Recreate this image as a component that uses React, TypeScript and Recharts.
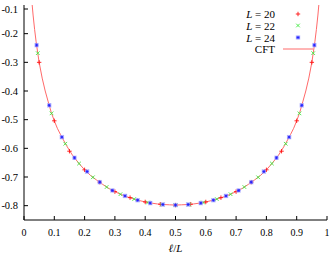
import React from 'react';
import { ScatterChart, Scatter, XAxis, YAxis, Legend } from 'recharts';

const L20_Y = [-0.300, -0.504, -0.610, -0.675, -0.718, -0.751, -0.772, -0.787, -0.795, -0.798, -0.795, -0.787, -0.772, -0.751, -0.718, -0.675, -0.610, -0.504, -0.300];
const L22_Y = [-0.268, -0.478, -0.584, -0.653, -0.701, -0.735, -0.760, -0.777, -0.789, -0.796, -0.798, -0.796, -0.789, -0.777, -0.760, -0.735, -0.701, -0.653, -0.584, -0.478, -0.268];
const L24_Y = [-0.240, -0.450, -0.561, -0.633, -0.681, -0.718, -0.747, -0.766, -0.781, -0.791, -0.796, -0.798, -0.796, -0.791, -0.781, -0.766, -0.747, -0.718, -0.681, -0.633, -0.561, -0.450, -0.240];

const CFT_X = [0.027, 0.03, 0.035, 0.04, 0.045, 0.05, 0.06, 0.07, 0.08, 0.09, 0.1, 0.11, 0.12, 0.14, 0.16, 0.18, 0.2, 0.22, 0.24, 0.26, 0.28, 0.3, 0.32, 0.34, 0.36, 0.38, 0.4, 0.42, 0.44, 0.46, 0.48, 0.5,
  0.52, 0.54, 0.56, 0.58, 0.6, 0.62, 0.64, 0.66, 0.68, 0.7, 0.72, 0.74, 0.76, 0.78, 0.8, 0.82, 0.84, 0.86, 0.88, 0.89, 0.9, 0.91, 0.92, 0.93, 0.94, 0.95, 0.955, 0.96, 0.965, 0.97, 0.973];
const CFT_Y = [-0.100, -0.135, -0.185, -0.228, -0.265, -0.300, -0.355, -0.400, -0.438, -0.475, -0.504, -0.530, -0.551, -0.590, -0.624, -0.651, -0.675, -0.695, -0.711, -0.726, -0.740, -0.751, -0.761, -0.769, -0.776, -0.782, -0.787, -0.791, -0.794, -0.796, -0.797, -0.798,
  -0.797, -0.796, -0.794, -0.791, -0.787, -0.782, -0.776, -0.769, -0.761, -0.751, -0.740, -0.726, -0.711, -0.695, -0.675, -0.651, -0.624, -0.590, -0.551, -0.530, -0.504, -0.475, -0.438, -0.400, -0.355, -0.300, -0.265, -0.228, -0.185, -0.135, -0.100];

const X_TICKS = [0, 0.1, 0.2, 0.3, 0.4, 0.5, 0.6, 0.7, 0.8, 0.9, 1];
const Y_TICKS = [-0.8, -0.7, -0.6, -0.5, -0.4, -0.3, -0.2, -0.1];
const X_LABELS = ['0', '0.1', '0.2', '0.3', '0.4', '0.5', '0.6', '0.7', '0.8', '0.9', '1'];
const Y_LABELS = ['-0.8', '-0.7', '-0.6', '-0.5', '-0.4', '-0.3', '-0.2', '-0.1'];

const l20 = L20_Y.map((y, i) => ({ x: (i + 1) / 20, y }));
const l22 = L22_Y.map((y, i) => ({ x: (i + 1) / 22, y }));
const l24 = L24_Y.map((y, i) => ({ x: (i + 1) / 24, y }));
const cft = CFT_X.map((x, i) => ({ x, y: CFT_Y[i] }));

const FONT = 'Liberation Serif';
const RED = '#ff1010';
const GREEN = '#40e840';
const BLUE = '#2020ff';
const CFT_COLOR = '#ff6a6a';
const TICK = 4;

const PlusMark = ({ cx, cy }: any) => {
  if (cx == null || cy == null) return <g />;
  const s = 2.2;
  return (
    <g stroke={RED} strokeWidth={0.9}>
      <line x1={cx - s} y1={cy} x2={cx + s} y2={cy} />
      <line x1={cx} y1={cy - s} x2={cx} y2={cy + s} />
    </g>
  );
};
const CrossMark = ({ cx, cy }: any) => {
  if (cx == null || cy == null) return <g />;
  const s = 1.8;
  return (
    <g stroke={GREEN} strokeWidth={0.9}>
      <line x1={cx - s} y1={cy - s} x2={cx + s} y2={cy + s} />
      <line x1={cx - s} y1={cy + s} x2={cx + s} y2={cy - s} />
    </g>
  );
};
const StarMark = ({ cx, cy }: any) => {
  if (cx == null || cy == null) return <g />;
  const s = 2.2;
  return (
    <g>
      <rect x={cx - s} y={cy - s} width={2 * s} height={2 * s} fill="#a8a8ff" opacity={0.7} />
      <g stroke={BLUE} strokeWidth={0.8}>
        <line x1={cx - 1.6} y1={cy} x2={cx + 1.6} y2={cy} />
        <line x1={cx} y1={cy - 1.6} x2={cx} y2={cy + 1.6} />
        <line x1={cx - 1.3} y1={cy - 1.3} x2={cx + 1.3} y2={cy + 1.3} />
        <line x1={cx - 1.3} y1={cy + 1.3} x2={cx + 1.3} y2={cy - 1.3} />
      </g>
    </g>
  );
};

const BottomTick = ({ x, y, payload }: any) => (
  <g>
    <line x1={x} y1={y} x2={x} y2={y - TICK} stroke="#000" />
    <text x={x} y={y + 12} textAnchor="middle" dominantBaseline="central" fontFamily={FONT} fontSize={10} fill="#000">
      {X_LABELS[X_TICKS.indexOf(payload.value)] ?? String(payload.value)}
    </text>
  </g>
);
const TopTick = ({ x, y }: any) => (
  <line x1={x} y1={y} x2={x} y2={y + TICK} stroke="#000" />
);
const LeftTick = ({ x, y, payload }: any) => (
  <g>
    <line x1={x} y1={y} x2={x + TICK} y2={y} stroke="#000" />
    <text x={x - 6} y={y} textAnchor="end" dominantBaseline="central" fontFamily={FONT} fontSize={10.5} fill="#000">
      {Y_LABELS[Y_TICKS.indexOf(payload.value)] ?? String(payload.value)}
    </text>
  </g>
);
const RightTick = ({ x, y }: any) => (
  <line x1={x} y1={y} x2={x - TICK} y2={y} stroke="#000" />
);

const XLabel = ({ viewBox }: any) => {
  const cx = viewBox ? viewBox.x + viewBox.width / 2 : 175.5;
  return (
    <text x={cx} y={248} textAnchor="middle" dominantBaseline="central" fontFamily={FONT} fontSize={11} fill="#000">
      <tspan fontStyle="italic">ℓ</tspan>/<tspan fontStyle="italic">L</tspan>
    </text>
  );
};

const LegendContent = () => (
  <svg width={332} height={60} style={{ display: 'block', pointerEvents: 'none' }}>
    <g fontFamily={FONT} fontSize={11} fill="#000">
      <text x={275} y={14} textAnchor="end" dominantBaseline="central"><tspan fontStyle="italic">L</tspan> = 20</text>
      <text x={275} y={25.5} textAnchor="end" dominantBaseline="central"><tspan fontStyle="italic">L</tspan> = 22</text>
      <text x={275} y={37.5} textAnchor="end" dominantBaseline="central"><tspan fontStyle="italic">L</tspan> = 24</text>
      <text x={275} y={49} textAnchor="end" dominantBaseline="central">CFT</text>
    </g>
    <PlusMark cx={298} cy={14} />
    <CrossMark cx={298} cy={25.5} />
    <StarMark cx={298} cy={37.5} />
    <line x1={283} y1={49} x2={313} y2={49} stroke={CFT_COLOR} strokeWidth={1} />
  </svg>
);

export default function App() {
  return (
    <div style={{ position: 'absolute', left: 0, top: 0, background: '#fff' }}>
      <ScatterChart width={332} height={256} margin={{ top: 5, right: 5, bottom: 0, left: 0 }}>
        <XAxis
          type="number"
          dataKey="x"
          domain={[0, 1]}
          ticks={X_TICKS}
          allowDataOverflow
          height={36}
          tickSize={0}
          tickMargin={0}
          tick={<BottomTick />}
          tickLine={false}
          axisLine={{ stroke: '#000' }}
          label={<XLabel />}
        />
        <XAxis
          xAxisId="top"
          orientation="top"
          type="number"
          domain={[0, 1]}
          ticks={X_TICKS}
          allowDataOverflow
          height={0}
          tickSize={0}
          tickMargin={0}
          tick={<TopTick />}
          tickLine={false}
          axisLine={{ stroke: '#000' }}
        />
        <YAxis
          type="number"
          dataKey="y"
          domain={[-0.85, -0.1]}
          ticks={Y_TICKS}
          allowDataOverflow
          width={24}
          tickSize={0}
          tickMargin={0}
          tick={<LeftTick />}
          tickLine={false}
          axisLine={{ stroke: '#000' }}
        />
        <YAxis
          yAxisId="right"
          orientation="right"
          type="number"
          domain={[-0.85, -0.1]}
          ticks={Y_TICKS}
          allowDataOverflow
          width={0}
          tickSize={0}
          tickMargin={0}
          tick={<RightTick />}
          tickLine={false}
          axisLine={{ stroke: '#000' }}
        />
        <Legend
          layout="vertical"
          align="center"
          verticalAlign="middle"
          content={<LegendContent />}
          wrapperStyle={{ position: 'absolute', left: 0, top: 0, width: 332, height: 60 }}
        />
        <Scatter
          name="CFT"
          data={cft}
          isAnimationActive={false}
          line={{ stroke: CFT_COLOR, strokeWidth: 1, fill: 'none' }}
          lineType="joint"
          shape={() => <g />}
        />
        <Scatter name="L = 20" data={l20} isAnimationActive={false} shape={<PlusMark />} />
        <Scatter name="L = 22" data={l22} isAnimationActive={false} shape={<CrossMark />} />
        <Scatter name="L = 24" data={l24} isAnimationActive={false} shape={<StarMark />} />
      </ScatterChart>
    </div>
  );
}
